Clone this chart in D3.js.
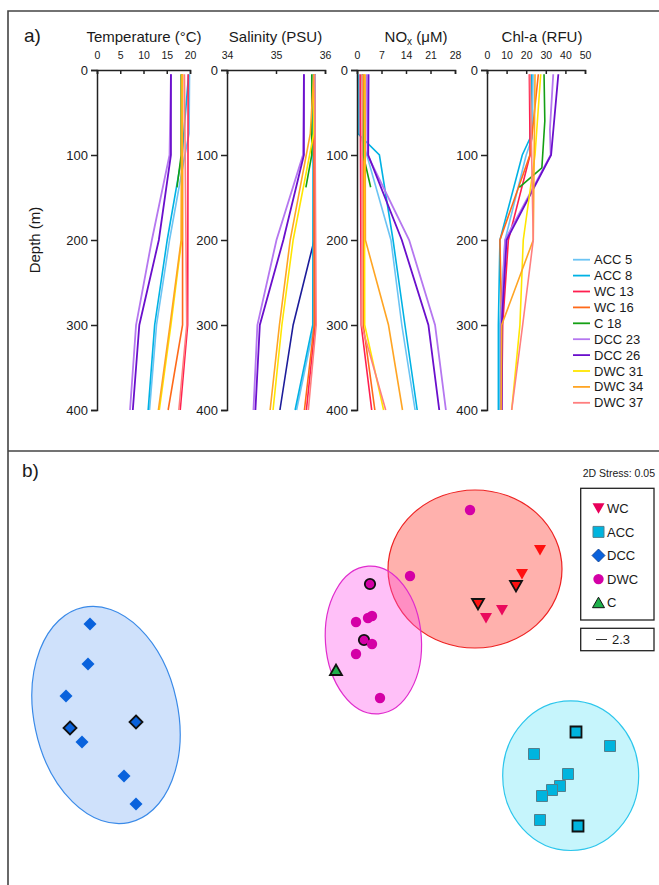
<!DOCTYPE html>
<html><head><meta charset="utf-8">
<script src="https://cdn.jsdelivr.net/npm/d3@7"></script>
<style>
body{margin:0;background:#fff}
svg{display:block}
text{font-family:"Liberation Sans",Arial,sans-serif;fill:#1a1a1a}
</style>
</head><body>
<svg id="c" width="659" height="885"></svg>
<script>
// ---------- DATA: panel a (vertical profiles, [depth m, value]) ----------
const stations = ["ACC 5","ACC 8","WC 13","WC 16","C 18","DCC 23","DCC 26","DWC 31","DWC 34","DWC 37"];
const stationColors = ["#6cc4f4","#00b2e4","#ff1f4f","#ff6a1a","#14a014","#b577f0","#6a0fcc","#ffe600","#ffa524","#ff7f7f"];
const depthTicks = [0,100,200,300,400];
const tempTicks = [0,5,10,15,20];
const salTicks = [34,35,36];
const noxTicks = [0,7,14,21,28];
const chlTicks = [0,10,20,30,40,50];

const temperature = {
  "ACC 5":[[5,19.9],[75,19.8],[100,18.9],[200,15.6],[300,12.8],[400,11.3]],
  "ACC 8":[[5,19.7],[100,18.3],[200,15.1],[300,12.4],[400,11.0]],
  "WC 13":[[5,19.6],[300,19.5],[400,17.9]],
  "WC 16":[[5,18.4],[300,18.4],[400,15.3]],
  "C 18":[[5,18.1],[100,18.1],[138,17.2]],
  "DCC 23":[[5,15.9],[100,15.6],[200,11.8],[300,8.4],[400,7.1]],
  "DCC 26":[[5,15.9],[100,15.9],[200,13.3],[300,9.1],[400,7.7]],
  "DWC 31":[[5,18.3],[200,18.2],[300,15.9],[400,13.4]],
  "DWC 34":[[5,18.2],[200,18.1],[300,15.7],[400,13.2]],
  "DWC 37":[[5,18.8],[300,19.3],[400,17.6]]
};
const salinity = {
  "ACC 5":[[5,35.8],[300,35.78],[400,35.42]],
  "ACC 8":[[5,35.76],[300,35.75],[400,35.39]],
  "WC 13":[[5,35.78],[300,35.8],[400,35.62]],
  "WC 16":[[5,35.77],[300,35.78],[400,35.58]],
  "C 18":[[5,35.73],[100,35.73],[138,35.61]],
  "DCC 23":[[5,35.57],[100,35.55],[200,35.01],[300,34.62],[400,34.54]],
  "DCC 26":[[5,35.57],[100,35.57],[200,35.15],[300,34.67],[400,34.58]],
  "DWC 31":[[5,35.78],[75,35.77],[200,35.35],[300,35.12],[400,34.94]],
  "DWC 34":[[5,35.77],[75,35.7],[200,35.29],[300,35.07],[400,34.88]],
  "DWC 37":[[5,35.79],[300,35.82],[400,35.66]]
};
const salinityExtra = [[5,35.8],[200,35.78],[300,35.35],[400,35.08]];
const nox = {
  "ACC 5":[[5,0.5],[75,0.8],[100,2.8],[200,9.7],[300,12.8],[400,16.6]],
  "ACC 8":[[5,0.2],[75,0.3],[100,6.4],[200,10.3],[300,13.7],[400,17.2]],
  "WC 13":[[5,0.9],[300,1.2],[400,4.2]],
  "WC 16":[[5,1.8],[300,1.8],[400,5.1]],
  "C 18":[[5,1.5],[100,1.8],[138,3.9]],
  "DCC 23":[[5,2.8],[100,3.0],[200,14.9],[300,22.3],[400,25.4]],
  "DCC 26":[[5,3.3],[100,3.2],[200,12.8],[300,20.4],[400,23.5]],
  "DWC 31":[[5,2.1],[300,2.2],[400,7.6]],
  "DWC 34":[[5,2.3],[200,2.4],[300,9.0],[400,13.0]],
  "DWC 37":[[5,1.5],[300,1.3],[400,8.2]]
};
const chla = {
  "ACC 5":[[5,23.5],[80,23],[100,20],[200,9.2],[300,6.5],[400,6.5]],
  "ACC 8":[[5,22.8],[80,22],[100,18],[200,6.6],[300,5.8],[400,5.8]],
  "WC 13":[[5,21.6],[100,22],[200,10.9],[300,8],[400,7.5]],
  "WC 16":[[5,26.2],[100,21.9],[200,6.6],[300,7.5],[400,7.0]],
  "C 18":[[5,29.1],[60,29.5],[115,28],[138,16.5]],
  "DCC 23":[[5,33.8],[70,32.1],[100,32.5],[200,9.2],[300,7.2],[400,7.2]],
  "DCC 26":[[5,36.4],[100,32.7],[200,10.0],[300,7.5],[400,7.5]],
  "DWC 31":[[5,27.4],[100,24.5],[200,18.5],[300,16.8],[400,12.6]],
  "DWC 34":[[5,24.5],[200,23.6],[300,7.5],[400,7.2]],
  "DWC 37":[[5,22],[200,23.6],[300,18.2],[400,12.6]]
};

// ---------- DATA: panel b (nMDS, [x, y, highlighted, subgroup]) ----------
const groups = ["WC","ACC","DCC","DWC","C"];
const wcPoints = [[1.05,0.60,0,"a"],[0.96,0.48,0,"a"],[0.93,0.42,1,"a"],[0.74,0.33,1,"a"],[0.86,0.30,0,"b"],[0.78,0.26,0,"b"]];
const accPoints = [[1.23,-0.31,1],[1.40,-0.38,0],[1.02,-0.42,0],[1.19,-0.52,0],[1.15,-0.58,0],[1.11,-0.60,0],[1.06,-0.63,0],[1.05,-0.75,0],[1.24,-0.78,1]];
const dccPoints = [[-1.20,0.23,0],[-1.21,0.03,0],[-1.32,-0.13,0],[-1.30,-0.29,1],[-1.24,-0.36,0],[-0.97,-0.26,1],[-1.03,-0.53,0],[-0.97,-0.67,0]];
const dwcPoints = [[0.70,0.80,0],[0.40,0.47,0],[0.20,0.43,1],[0.21,0.27,0],[0.19,0.26,0],[0.13,0.24,0],[0.17,0.15,1],[0.21,0.13,0],[0.13,0.08,0],[0.25,-0.14,0]];
const cPoints = [[0.03,0.0,1]];
const ellipseGroups = ["DCC","ACC","WC","DWC"];
const ellipseCX = [-1.12, 1.2035, 0.725, 0.217];
const ellipseCY = [-0.225, -0.5285, 0.505, 0.15];
const ellipseRX = [0.36, 0.34, 0.435, 0.24];
const ellipseRY = [0.55, 0.374, 0.395, 0.37];
const ellipseAngle = [-12, 0, 0, -4];
const stressLabel = "2D Stress: 0.05";
const scaleLabel = "2.3";

// ---------- DRAW ----------
const svg = d3.select("#c");
const F = '"Liberation Sans",Arial,sans-serif';

// frame
const frame = svg.append("g").attr("stroke","#444").attr("stroke-width",1.6).attr("fill","none");
frame.append("path").attr("d","M8,885V11H659");
frame.append("path").attr("d","M8,451H659");

svg.append("text").attr("x",24).attr("y",42).attr("font-size",19).text("a)");
svg.append("text").attr("x",22).attr("y",477).attr("font-size",19).text("b)");

const y = d3.scaleLinear().domain([0,400]).range([70,410]);
svg.append("text").attr("transform","translate(40,240) rotate(-90)").attr("text-anchor","middle")
  .attr("font-size",15).text("Depth (m)");

const panels = [
  {title:"Temperature (°C)", data:temperature, domain:[0,20], ticks:tempTicks, x0:97, x1:190, tx:144},
  {title:"Salinity (PSU)", data:salinity, domain:[34,36], ticks:salTicks, x0:227, x1:325, tx:275.5, extra:salinityExtra},
  {title:"NOx", data:nox, domain:[0,28], ticks:noxTicks, x0:357, x1:455, tx:416},
  {title:"Chl-a (RFU)", data:chla, domain:[0,50], ticks:chlTicks, x0:487, x1:585, tx:542}
];

const colorOf = d3.scaleOrdinal().domain(stations).range(stationColors);

panels.forEach(p => {
  const x = d3.scaleLinear().domain(p.domain).range([p.x0,p.x1]);
  const g = svg.append("g");
  const line = d3.line().x(d=>x(d[1])).y(d=>y(d[0]));
  if (p.extra) {
    g.append("path").attr("d",line(p.extra)).attr("fill","none").attr("stroke","#1c1c9a").attr("stroke-width",1.6);
  }
  stations.forEach(s => {
    g.append("path").attr("d",line(p.data[s])).attr("fill","none")
      .attr("stroke",colorOf(s)).attr("stroke-width", s.startsWith("DCC") ? 1.8 : 1.6);
  });
  const ax = svg.append("g").attr("transform","translate(0,70)")
    .call(d3.axisTop(x).tickValues(p.ticks).tickFormat(d3.format("d")).tickSize(-4).tickPadding(11));
  const ay = svg.append("g").attr("transform",`translate(${p.x0},0)`)
    .call(d3.axisLeft(y).tickValues(depthTicks).tickFormat(d3.format("d")).tickSize(6).tickPadding(3));
  [ax,ay].forEach(a => {
    a.selectAll("path,line").attr("stroke","#222").attr("stroke-width",1.5);
    a.selectAll("text").attr("fill","#1a1a1a").attr("font-family",F);
  });
  ax.selectAll("text").attr("font-size",10.5);
  ay.selectAll("text").attr("font-size",13);
  const t = svg.append("text").attr("x",p.tx).attr("y",42).attr("text-anchor","middle").attr("font-size",15);
  if (p.title === "NOx") {
    t.append("tspan").text("NO");
    t.append("tspan").attr("font-size",10).attr("dy",3).text("x");
    t.append("tspan").attr("dy",-3).text(" (μM)");
  } else t.text(p.title);
});

// legend a
const lg = svg.append("g");
stations.forEach((s,i) => {
  const yy = 259.7 + i*15.9;
  lg.append("line").attr("x1",573).attr("x2",590).attr("y1",yy).attr("y2",yy)
    .attr("stroke",colorOf(s)).attr("stroke-width",1.8);
  lg.append("text").attr("x",594).attr("y",yy).attr("dy","0.35em").attr("font-size",13).text(s);
});

// ---------- panel b ----------
const xb = d3.scaleLinear().domain([-1.6,1.6]).range([10,650]);
const yb = d3.scaleLinear().domain([-1,1]).range([870,470]);
const ellStyle = {
  DCC:{fill:"#cfe1fb",stroke:"#3a8ae8"},
  ACC:{fill:"#c6f5fc",stroke:"#2cc6ec"},
  WC:{fill:"rgba(255,60,50,0.4)",stroke:"#ee2222"},
  DWC:{fill:"rgba(255,80,235,0.36)",stroke:"#e02ccd"}
};
ellipseGroups.forEach((gname,i) => {
  const cx = xb(ellipseCX[i]), cy = yb(ellipseCY[i]);
  svg.append("ellipse").attr("cx",cx).attr("cy",cy)
    .attr("rx",xb(ellipseRX[i])-xb(0)).attr("ry",yb(0)-yb(ellipseRY[i]))
    .attr("transform",`rotate(${ellipseAngle[i]},${cx},${cy})`)
    .attr("fill",ellStyle[gname].fill).attr("stroke",ellStyle[gname].stroke).attr("stroke-width",1.2);
});

const shapes = {
  WC:"M-6,-5L6,-5L0,5.5Z",
  ACC:"M-5.5,-5.5H5.5V5.5H-5.5Z",
  DCC:"M0,-6.5L6.5,0L0,6.5L-6.5,0Z",
  DWC:"M5.2,0A5.2,5.2 0 1,1 -5.2,0A5.2,5.2 0 1,1 5.2,0Z",
  C:"M-6,5L6,5L0,-5.5Z"
};
const fills = {WC:"#e8005a", ACC:"#00b4de", DCC:"#0a62dc", DWC:"#d400a6", C:"#20b04c"};
const wcSubFill = {a:"#ff1010", b:"#ea0a5c"};

function drawPts(pts, gname) {
  pts.forEach(d => {
    const fill = gname==="WC" ? wcSubFill[d[3]] : fills[gname];
    const p = svg.append("path").attr("d",shapes[gname])
      .attr("transform",`translate(${xb(d[0])},${yb(d[1])})`).attr("fill",fill);
    if (d[2]) p.attr("stroke","#111").attr("stroke-width",1.8);
    else if (gname==="ACC") p.attr("stroke","#52808e").attr("stroke-width",1);
  });
}
drawPts(dccPoints,"DCC");
drawPts(accPoints,"ACC");
drawPts(wcPoints,"WC");
drawPts(dwcPoints,"DWC");
drawPts(cPoints,"C");

// legend b
svg.append("text").attr("x",655).attr("y",477).attr("text-anchor","end").attr("font-size",10.5).text(stressLabel);
svg.append("rect").attr("x",580.7).attr("y",488.3).attr("width",73.3).attr("height",131.7)
  .attr("fill","#fff").attr("stroke","#222").attr("stroke-width",1.3);
groups.forEach((gname,i) => {
  const yy = 508.3 + i*23.6;
  const p = svg.append("path").attr("d",shapes[gname]).attr("transform",`translate(598.5,${yy})`).attr("fill",fills[gname]);
  if (gname==="ACC") p.attr("stroke","#52808e").attr("stroke-width",1);
  if (gname==="DCC") p.attr("stroke","#0a3a8a").attr("stroke-width",0.8);
  if (gname==="C") p.attr("stroke","#111").attr("stroke-width",1);
  svg.append("text").attr("x",607).attr("y",yy).attr("dy","0.36em").attr("font-size",13).text(gname);
});
svg.append("rect").attr("x",580.7).attr("y",628.3).attr("width",73.3).attr("height",22.4)
  .attr("fill","#fff").attr("stroke","#222").attr("stroke-width",1.3);
svg.append("line").attr("x1",596).attr("x2",607).attr("y1",639.5).attr("y2",639.5).attr("stroke","#333").attr("stroke-width",1);
svg.append("text").attr("x",612).attr("y",639.5).attr("dy","0.36em").attr("font-size",13).text(scaleLabel);
</script>
</body></html>
